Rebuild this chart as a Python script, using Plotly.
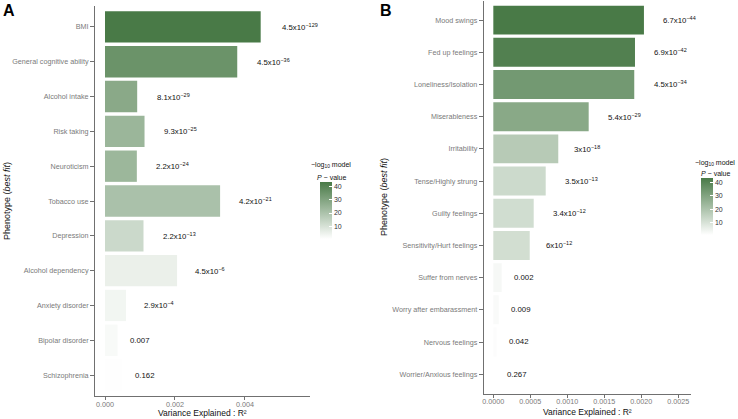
import numpy as np
import plotly.graph_objects as go

# ---------------- data ----------------
A_pheno = ["BMI", "General cognitive ability", "Alcohol intake", "Risk taking", "Neuroticism",
           "Tobacco use", "Depression", "Alcohol dependency", "Anxiety disorder",
           "Bipolar disorder", "Schizophrenia"]
A_r2 = [0.00445, 0.00378, 0.00092, 0.00113, 0.00091, 0.00329, 0.00110, 0.00206, 0.00060, 0.00036, 0.00050]
A_p = [4.5e-129, 4.5e-36, 8.1e-29, 9.3e-25, 2.2e-24, 4.2e-21, 2.2e-13, 4.5e-6, 2.9e-4, 0.007, 0.162]
A_lab = [("4.5x10", "−129"), ("4.5x10", "−36"), ("8.1x10", "−29"), ("9.3x10", "−25"), ("2.2x10", "−24"),
         ("4.2x10", "−21"), ("2.2x10", "−13"), ("4.5x10", "−6"), ("2.9x10", "−4"), ("0.007", ""), ("0.162", "")]

B_pheno = ["Mood swings", "Fed up feelings", "Loneliness/Isolation", "Miserableness", "Irritability",
           "Tense/Highly strung", "Guilty feelings", "Sensitivity/Hurt feelings", "Suffer from nerves",
           "Worry after embarassment", "Nervous feelings", "Worrier/Anxious feelings"]
B_r2 = [0.002036, 0.001915, 0.001905, 0.001289, 0.000878, 0.000708, 0.000546, 0.000492,
        0.000113, 0.000073, 0.000046, 0.000014]
B_p = [6.7e-44, 6.9e-42, 4.5e-34, 5.4e-29, 3e-18, 3.5e-13, 3.4e-12, 6e-12, 0.002, 0.009, 0.042, 0.267]
B_lab = [("6.7x10", "−44"), ("6.9x10", "−42"), ("4.5x10", "−34"), ("5.4x10", "−29"), ("3x10", "−18"),
         ("3.5x10", "−13"), ("3.4x10", "−12"), ("6x10", "−12"), ("0.002", ""), ("0.009", ""),
         ("0.042", ""), ("0.267", "")]

A_ticks = [0.000, 0.002, 0.004]
A_ticktext = ["0.000", "0.002", "0.004"]
B_ticks = [0.0, 0.0005, 0.0010, 0.0015, 0.0020, 0.0025]
B_ticktext = ["0.0000", "0.0005", "0.0010", "0.0015", "0.0020", "0.0025"]
CB_ticks = [10, 20, 30, 40]

# ---------------- style ----------------
W, H = 738, 419
FONT = "Liberation Sans, Arial, sans-serif"
GREEN = "#497a47"
AXC = "#707070"
TICKC = "#7a7a7a"
LABSZ = 7.8
cscale = [[0, "#ffffff"], [1, GREEN]]
CMIN, CMAX = 0.57, 43.2


def px(xp):
    return xp / W


def py(yp):
    return 1 - yp / H


def text_width(main, sup, size=LABSZ):
    w = 0
    for ch in main:
        w += {".": 0.278, "x": 0.5}.get(ch, 0.556) * size
    for ch in sup:
        w += {"−": 0.584}.get(ch, 0.556) * size * 0.7
    return w


fig = go.Figure()

panels = [
    dict(ph=A_pheno, r2=A_r2, p=A_p, lab=A_lab, xa="x", ya="y", ca="coloraxis"),
    dict(ph=B_pheno, r2=B_r2, p=B_p, lab=B_lab, xa="x2", ya="y2", ca="coloraxis2"),
]

annotations = []
for pnl in panels:
    logp = [-np.log10(v) for v in pnl["p"]]
    fig.add_trace(go.Bar(
        y=pnl["ph"], x=pnl["r2"], orientation="h", width=0.9,
        marker=dict(color=logp, coloraxis=pnl["ca"], line=dict(width=0)),
        xaxis=pnl["xa"], yaxis=pnl["ya"], showlegend=False, hoverinfo="skip"))
    for cat, val, (m, s) in zip(pnl["ph"], pnl["r2"], pnl["lab"]):
        txt = m + (f"<sup>{s}</sup>" if s else "")
        w = text_width(m, s)
        annotations.append(dict(
            x=val, y=cat, xref=pnl["xa"], yref=pnl["ya"], text=txt, showarrow=False,
            xanchor="left", yanchor="middle", xshift=0.5 * w + 1,
            font=dict(family=FONT, size=LABSZ, color="#111111")))

axis_common = dict(showline=True, linecolor=AXC, linewidth=1, ticks="outside",
                   tickcolor=AXC, tickwidth=1, showgrid=False, zeroline=False, automargin=False,
                   tickfont=dict(family=FONT, size=7.2, color=TICKC))

fig.update_layout(
    template="none",
    width=W, height=H, margin=dict(l=0, r=0, t=0, b=0, pad=0),
    plot_bgcolor="white", paper_bgcolor="white", bargap=0.1,
    font=dict(family=FONT),
    xaxis=dict(domain=[px(95), px(310)], range=[-0.000286, 0.00586], anchor="y", ticklen=3,
               ticklabelstandoff=-2, tickvals=A_ticks, ticktext=A_ticktext, **axis_common),
    yaxis=dict(domain=[py(396), py(6)], range=[10.6, -0.6], anchor="x", type="category",
               categoryorder="array", categoryarray=A_pheno, ticklen=4, **axis_common),
    xaxis2=dict(domain=[px(483.7), px(690.7)], range=[-0.00013, 0.002668], anchor="y2", ticklen=3,
                ticklabelstandoff=-2, tickvals=B_ticks, ticktext=B_ticktext, **axis_common),
    yaxis2=dict(domain=[py(393.5), py(0.8)], range=[11.6, -0.6], anchor="x2", type="category",
                categoryorder="array", categoryarray=B_pheno, ticklen=4, **axis_common),
    coloraxis=dict(colorscale=cscale, cmin=CMIN, cmax=CMAX,
                   colorbar=dict(x=px(320), xanchor="left", y=py(182), yanchor="top",
                                 len=57, lenmode="pixels", thickness=12, outlinewidth=0,
                                 tickvals=CB_ticks, ticks="inside", ticklen=3, tickcolor="white",
                                 tickfont=dict(family=FONT, size=7, color="#333333"),
                                 xpad=0, ypad=0, title=dict(text=""))),
    coloraxis2=dict(colorscale=cscale, cmin=CMIN, cmax=CMAX,
                    colorbar=dict(x=px(701), xanchor="left", y=py(178.3), yanchor="top",
                                  len=57, lenmode="pixels", thickness=12, outlinewidth=0,
                                  tickvals=CB_ticks, ticks="inside", ticklen=3, tickcolor="white",
                                  tickfont=dict(family=FONT, size=7, color="#333333"),
                                  xpad=0, ypad=0, title=dict(text=""))),
)

# panel letters, axis titles, legend titles
extra = [
    dict(x=px(0.5), y=py(11), text="<b>A</b>", font=dict(size=16, color="black"), xanchor="left"),
    dict(x=px(378), y=py(11), text="<b>B</b>", font=dict(size=16, color="black"), xanchor="left"),
    dict(x=px(202.5), y=py(419), yanchor="bottom", borderpad=0, text="Variance Explained : R²",
         font=dict(size=8.5, color="#111111")),
    dict(x=px(587), y=py(418), yanchor="bottom", borderpad=0, text="Variance Explained : R²",
         font=dict(size=8.5, color="#111111")),
    dict(x=px(7), y=py(201), text="Phenotype (<i>best fit</i>)", textangle=-90, font=dict(size=9, color="#111111")),
    dict(x=px(384), y=py(197), text="Phenotype (<i>best fit</i>)", textangle=-90, font=dict(size=9, color="#111111")),
    dict(x=px(331), y=py(165), text="−log<sub>10</sub> model", font=dict(size=7, color="#111111")),
    dict(x=px(331), y=py(177), text="<i>P</i> − value", font=dict(size=7, color="#111111")),
    dict(x=px(715), y=py(162.5), text="−log<sub>10</sub> model", font=dict(size=7, color="#111111")),
    dict(x=px(715), y=py(173.5), text="<i>P</i> − value", font=dict(size=7, color="#111111")),
]
for a in extra:
    a.setdefault("xanchor", "center")
    a.setdefault("yanchor", "middle")
    a.update(xref="paper", yref="paper", showarrow=False)
    a["font"]["family"] = FONT
    annotations.append(a)

fig.update_layout(annotations=annotations)
fig.write_html("out.html", config={"displayModeBar": False},
               post_script="document.body.style.margin='0';document.body.style.padding='0';"
                           "document.body.style.overflow='hidden';")
